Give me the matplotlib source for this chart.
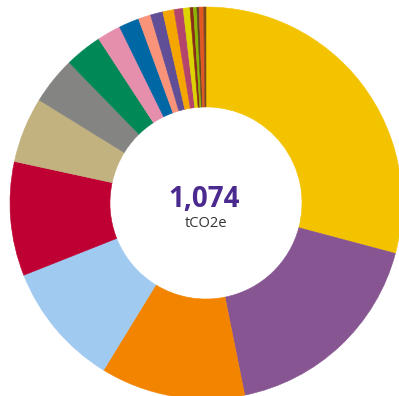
import matplotlib
matplotlib.use("Agg")
import matplotlib.pyplot as plt

# Emissions by source (tCO2e)
categories = [f"Source {i}" for i in range(1, 21)]
values = [313, 190, 128, 110, 101, 58, 42, 33, 21, 18,
          11, 11, 10, 8, 6, 3, 3, 2, 4, 2]
colors = ["#F3C300", "#875692", "#F38400", "#A1CAF1", "#BE0032",
          "#C2B280", "#848482", "#008856", "#E68FAC", "#0067A5",
          "#F99379", "#604E97", "#F6A600", "#B3446C", "#DCD300",
          "#882D17", "#8DB600", "#654522", "#E25822", "#7A4A1E"]
total_label = "1,074"
unit_label = "tCO2e"

W, H = 399, 396
fig = plt.figure(figsize=(W / 100, H / 100), dpi=100)
ax = fig.add_axes([0, 0, 1, 1])

wedges, _ = ax.pie(values, colors=colors, startangle=90, counterclock=False,
                   radius=1.0,
                   wedgeprops=dict(width=0.51, linewidth=0.4, antialiased=True))
for w, c in zip(wedges, colors):
    w.set_edgecolor(c)

# centre of the ring at (206, 203) px from top-left, radius 196 px
cx, cy, r = 206, 203, 196
ax.set_xlim(-cx / r, (W - cx) / r)
ax.set_ylim(-(H - cy) / r, cy / r)
ax.set_aspect("auto")
ax.axis("off")

ax.text(-0.01, -0.019, total_label, ha="center", va="baseline",
        fontsize=20, fontweight="bold", color="#4B2A8F",
        family=["Open Sans", "DejaVu Sans"])
ax.text(0.0, -0.121, unit_label, ha="center", va="baseline",
        fontsize=10.5, color="#333333", family=["Open Sans", "DejaVu Sans"])

fig.savefig("out.png", dpi=100, facecolor="white")
